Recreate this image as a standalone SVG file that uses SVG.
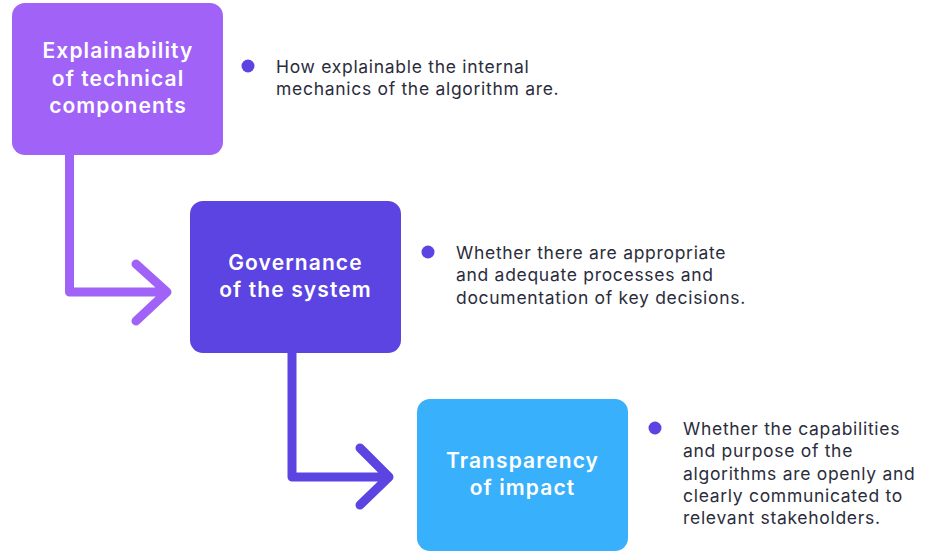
<svg xmlns="http://www.w3.org/2000/svg" width="927" height="551" viewBox="0 0 927 551">
<style>
.title{font-family:Inter,"Liberation Sans",sans-serif;font-weight:600;font-size:21px;fill:#ffffff;text-anchor:middle;letter-spacing:1.1px}
.desc{font-family:Inter,"Liberation Sans",sans-serif;font-size:17.5px;fill:#2b2d3c;letter-spacing:0.7px}
.conn{fill:none;stroke-width:9;stroke-linecap:round;stroke-linejoin:round}
</style>
<rect width="927" height="551" fill="#ffffff"/>
<g id="connectors">
<path class="conn" stroke="#A062F7" d="M69.5 155 V292 H166 M136 264 L167 292 L136 321"/>
<path class="conn" stroke="#5B44E2" d="M292 353 V477 H388 M360 448 L389 477 L360 505"/>
</g>
<g id="node1">
<rect x="12" y="3" width="211" height="152" rx="13" fill="#A062F7"/>
<text class="title" x="118" y="58">Explainability</text>
<text class="title" x="118" y="86">of technical</text>
<text class="title" x="118" y="113">components</text>
</g>
<g id="desc1">
<circle cx="248" cy="66" r="6.5" fill="#5B44E2"/>
<text class="desc" x="276" y="73">How explainable the internal</text>
<text class="desc" x="276" y="95">mechanics of the algorithm are.</text>
</g>
<g id="node2">
<rect x="190" y="201" width="211" height="152" rx="13" fill="#5B44E2"/>
<text class="title" x="295.5" y="270">Governance</text>
<text class="title" x="295.5" y="297">of the system</text>
</g>
<g id="desc2">
<circle cx="428" cy="252" r="6.5" fill="#5B44E2"/>
<text class="desc" x="456" y="259">Whether there are appropriate</text>
<text class="desc" x="456" y="281">and adequate processes and</text>
<text class="desc" x="456" y="304">documentation of key decisions.</text>
</g>
<g id="node3">
<rect x="417" y="399" width="211" height="152" rx="13" fill="#38B0FC"/>
<text class="title" x="522.5" y="468">Transparency</text>
<text class="title" x="522.5" y="495">of impact</text>
</g>
<g id="desc3">
<circle cx="655" cy="428" r="6.5" fill="#5B44E2"/>
<text class="desc" x="683" y="435">Whether the capabilities</text>
<text class="desc" x="683" y="457">and purpose of the</text>
<text class="desc" x="683" y="480">algorithms are openly and</text>
<text class="desc" x="683" y="502">clearly communicated to</text>
<text class="desc" x="683" y="524">relevant stakeholders.</text>
</g>
</svg>
